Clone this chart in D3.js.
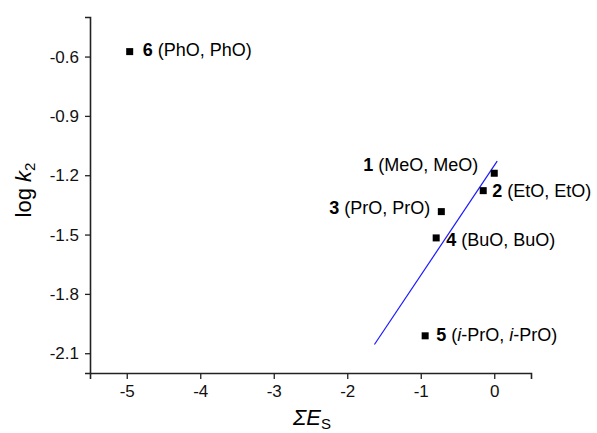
<!DOCTYPE html>
<html>
<head>
<meta charset="utf-8">
<script src="https://cdn.jsdelivr.net/npm/d3@7"></script>
<style>
    body { margin: 0; background: #fff; }
    svg { font-family: Arial, "Liberation Sans", sans-serif; }
</style>
</head>
<body>
<script>
// Data
var ids    = ['1', '2', '3', '4', '5', '6'];
var groups = ['(MeO, MeO)', '(EtO, EtO)', '(PrO, PrO)', '(BuO, BuO)', '(i-PrO, i-PrO)', '(PhO, PhO)'];
var sumEs  = [0.0, -0.15, -0.72, -0.79, -0.94, -4.96];
var logK2  = [-1.19, -1.278, -1.384, -1.517, -2.012, -0.575];
var fitX   = [-1.63, 0.04];
var fitY   = [-2.056, -1.129];
var xTicks = [-5, -4, -3, -2, -1, 0];
var yTicks = [-0.6, -0.9, -1.2, -1.5, -1.8, -2.1];

// label placement: side of the point and offsets in px
var labelSide = ['left', 'right', 'left', 'right', 'right', 'right'];
var labelDx   = [16, 9, 11, 10, 11, 13];
var labelDy   = [-2, 6, 2, 8, 5, 4];

var width = 597, height = 433;
var margin = { left: 90, right: 66, top: 17, bottom: 60 };

var svg = d3.select('body').append('svg')
    .attr('width', width)
    .attr('height', height);

var x = d3.scaleLinear().domain([-5.5, 0.5]).range([margin.left, width - margin.right]);
var y = d3.scaleLinear().domain([-2.2, -0.4]).range([height - margin.bottom, margin.top]);

// hyphen instead of unicode minus, like the original
function fmt(spec) {
    var f = d3.format(spec);
    return function (d) { return f(d).replace('\u2212', '-'); };
}

// Axes
var xAxis = svg.append('g')
    .attr('transform', 'translate(0,' + y(-2.2) + ')')
    .call(d3.axisBottom(x).tickValues(xTicks).tickSize(6).tickPadding(6).tickFormat(fmt('d')));

var yAxis = svg.append('g')
    .attr('transform', 'translate(' + x(-5.5) + ',0)')
    .call(d3.axisLeft(y).tickValues(yTicks).tickSize(5).tickPadding(6).tickFormat(fmt('.1f')));

[xAxis, yAxis].forEach(function (a) {
    a.select('.domain').attr('stroke', '#222').attr('stroke-width', 1.6);
    a.selectAll('.tick line').attr('stroke', '#222').attr('stroke-width', 1.3);
    a.selectAll('.tick text').attr('font-size', 17).attr('fill', '#111')
        .attr('font-family', 'Arial, "Liberation Sans", sans-serif');
});

// Fit line
svg.append('line')
    .attr('x1', x(fitX[0])).attr('y1', y(fitY[0]))
    .attr('x2', x(fitX[1])).attr('y2', y(fitY[1]))
    .attr('stroke', '#1a1aff')
    .attr('stroke-width', 1.2);

// Points
var pts = ids.map(function (id, i) {
    return { id: id, group: groups[i], x: sumEs[i], y: logK2[i],
             side: labelSide[i], dx: labelDx[i], dy: labelDy[i] };
});

svg.selectAll('rect.pt')
    .data(pts).enter()
    .append('rect')
    .attr('class', 'pt')
    .attr('x', function (d) { return x(d.x) - 3.5; })
    .attr('y', function (d) { return y(d.y) - 3.5; })
    .attr('width', 7)
    .attr('height', 7)
    .attr('fill', '#000');

// Labels
var lab = svg.selectAll('text.lab')
    .data(pts).enter()
    .append('text')
    .attr('class', 'lab')
    .attr('font-size', 18)
    .attr('fill', '#000')
    .attr('x', function (d) { return d.side === 'left' ? x(d.x) - d.dx : x(d.x) + d.dx; })
    .attr('y', function (d) { return y(d.y) + d.dy; })
    .attr('text-anchor', function (d) { return d.side === 'left' ? 'end' : 'start'; });

lab.each(function (d) {
    var t = d3.select(this);
    t.append('tspan').attr('font-weight', 'bold').text(d.id + ' ');
    // split "i-" prefixes into italic parts
    var parts = d.group.split(/(i)-/);
    parts.forEach(function (p) {
        if (p === 'i') {
            t.append('tspan').attr('font-style', 'italic').text('i');
            t.append('tspan').text('-');
        } else if (p.length) {
            t.append('tspan').text(p);
        }
    });
});

// Axis titles
var xt = svg.append('text')
    .attr('x', 312)
    .attr('y', 425)
    .attr('text-anchor', 'middle')
    .attr('font-size', 22);
xt.append('tspan').attr('font-style', 'italic').text('ΣE');
xt.append('tspan').attr('font-size', 15).attr('dy', 4).text('S');

var yt = svg.append('text')
    .attr('transform', 'translate(31,190) rotate(-90)')
    .attr('text-anchor', 'middle')
    .attr('font-size', 22);
yt.append('tspan').text('log ');
yt.append('tspan').attr('font-style', 'italic').text('k');
yt.append('tspan').attr('font-size', 15).attr('dy', 4).text('2');
</script>
</body>
</html>
